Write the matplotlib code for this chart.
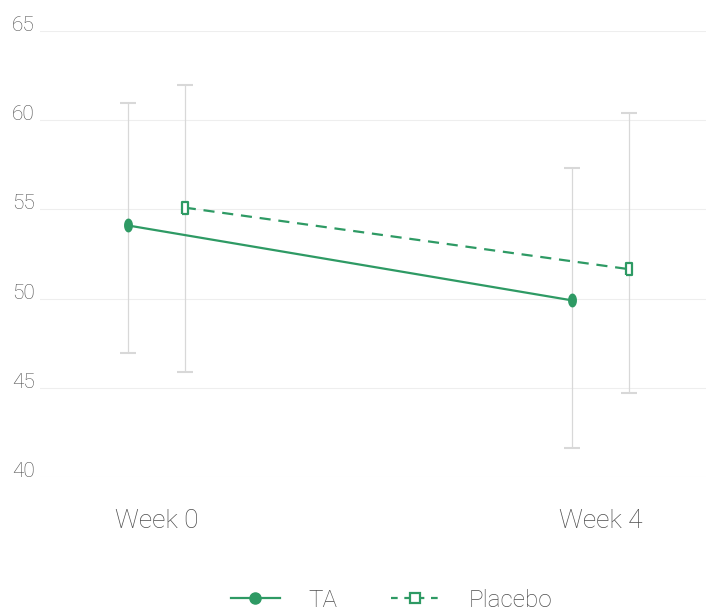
import matplotlib
matplotlib.use("Agg")
import matplotlib.pyplot as plt
import numpy as np
from matplotlib.lines import Line2D

categories = ["Week 0", "Week 4"]
ta_mean = [54.1, 49.9]
ta_upper = [60.95, 57.3]
ta_lower = [46.95, 41.6]
pl_mean = [55.1, 51.65]
pl_upper = [61.95, 60.4]
pl_lower = [45.9, 44.7]
yticks = [40, 45, 50, 55, 60, 65]

green = "#2e9a64"
grey_err = "#d8d8d8"
txt = "#4d4d4d"
plt.rcParams['font.family'] = ['Roboto', 'DejaVu Sans']
plt.rcParams['font.weight'] = 'light'

fig = plt.figure(figsize=(7.06, 6.12), dpi=100)
ax = fig.add_axes([40/706, 1-477/612, 1-40/706, (477-31)/612])

x = np.arange(len(categories))
off = 0.064
xt = x - off
xp = x + off

for xs, m, lo, up in [(xt, ta_mean, ta_lower, ta_upper), (xp, pl_mean, pl_lower, pl_upper)]:
    m = np.array(m); lo = np.array(lo); up = np.array(up)
    ax.errorbar(xs, m, yerr=[m - lo, up - m], fmt='none', ecolor=grey_err,
                elinewidth=0.9, capsize=6, capthick=1.5, zorder=2)

theta = np.linspace(0, 2*np.pi, 40)
ell = np.column_stack([0.6*np.cos(theta), np.sin(theta)])
rect = [(-0.55, -1), (0.55, -1), (0.55, 1), (-0.55, 1), (-0.55, -1)]

ax.plot(xt, ta_mean, color=green, lw=1.6, marker=ell, markersize=9,
        markerfacecolor=green, markeredgecolor=green, zorder=3)
ax.plot(xp, pl_mean, color=green, lw=1.6, ls=(0, (5, 3.5)), marker=rect, markersize=9,
        markerfacecolor='white', markeredgecolor=green, markeredgewidth=1.6, zorder=3)

ax.set_xlim(-0.262, 1.2376)
ax.set_ylim(40, 65)
ax.set_yticks(yticks)
ax.set_xticks(x)
ax.set_xticklabels(categories)
ax.yaxis.grid(True, color='#eeeeee', lw=0.8)
ax.set_axisbelow(True)
for s in ax.spines.values():
    s.set_visible(False)
ax.tick_params(axis='both', length=0, labelcolor=txt)
ax.tick_params(axis='y', labelsize=15, pad=4)
ax.tick_params(axis='x', labelsize=19, pad=23)
for lab in ax.get_yticklabels():
    lab.set_verticalalignment('baseline')

handles = [
    Line2D([], [], color=green, lw=1.6, marker='o', markersize=8, markerfacecolor=green),
    Line2D([], [], color=green, lw=1.6, ls=(0, (3, 3)), marker='s', markersize=7,
           markerfacecolor='white', markeredgewidth=1.6),
]
leg = fig.legend(handles, ["TA", "Placebo"], loc='lower center', bbox_to_anchor=(0.555, -0.035),
                 ncol=2, frameon=False, fontsize=17.5, handlelength=2.0, columnspacing=2.2,
                 handletextpad=1.2)
for t in leg.get_texts():
    t.set_color(txt)

fig.savefig("out.png", dpi=100)
